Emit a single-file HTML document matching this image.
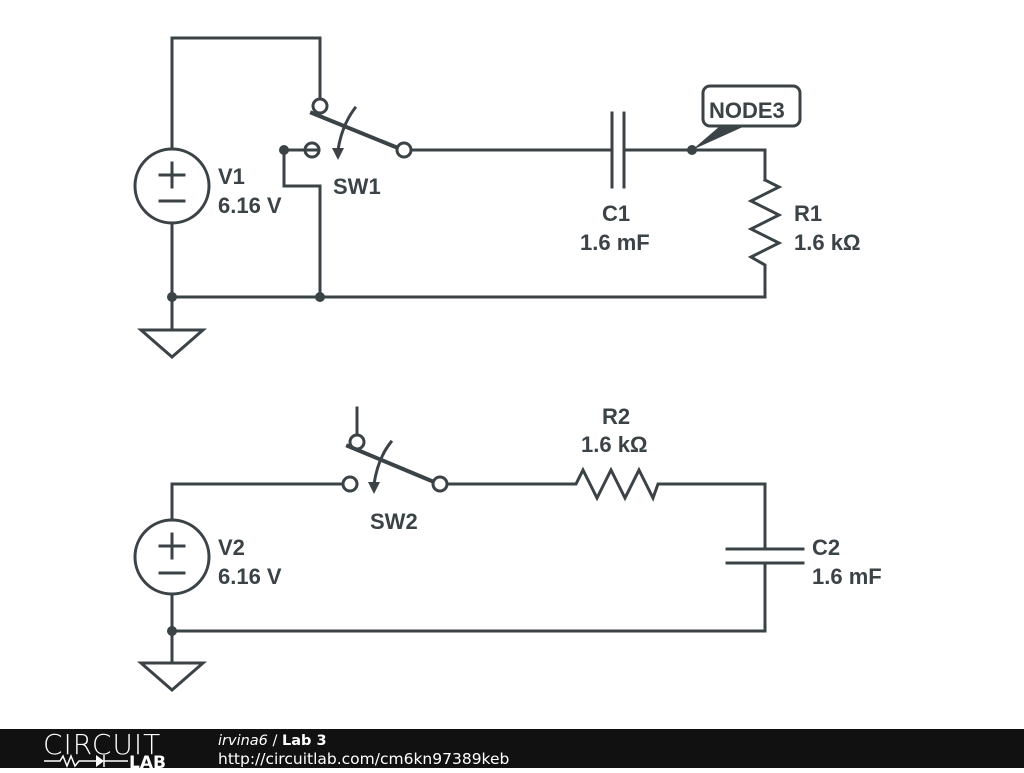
<!DOCTYPE html>
<html><head><meta charset="utf-8"><style>
body{margin:0;width:1024px;height:768px;overflow:hidden;background:#fff;font-family:"Liberation Sans",sans-serif}
</style></head><body>
<svg width="1024" height="768" viewBox="0 0 1024 768" xmlns="http://www.w3.org/2000/svg">
<g fill="none" stroke="#3b4347" stroke-width="3" stroke-linecap="square" stroke-linejoin="miter">
<polyline points="172,149 172,38 320,38 320,99"/>
<circle cx="320" cy="106" r="7" stroke-width="3" fill="#fff"/>
<line x1="312" y1="113" x2="398" y2="148" stroke-width="4"/>
<circle cx="404" cy="150" r="7" fill="#fff"/>
<circle cx="312" cy="150" r="7" fill="#fff"/>
<line x1="284" y1="150" x2="319" y2="150"/>
<polyline points="284,150 284,186 320,186 320,297"/>
<path d="M355,108 Q342,125 338,150"/>
<line x1="411" y1="150" x2="612" y2="150"/>
<line x1="612" y1="113" x2="612" y2="187" stroke-width="3"/>
<line x1="624" y1="113" x2="624" y2="187" stroke-width="3"/>
<polyline points="624,150 765,150 765,180"/>
<polyline points="765,180 779,187 751,201 779,215 751,229 779,243 751,257 765,265 765,297 172,297"/>
<line x1="172" y1="223" x2="172" y2="330"/>
<circle cx="172" cy="186" r="37"/>
<line x1="160" y1="175" x2="184" y2="175"/><line x1="172" y1="163" x2="172" y2="187"/>
<line x1="160" y1="201" x2="184" y2="201"/>
<polygon points="141,330 203,330 172,357"/>
<rect x="703" y="86" width="97" height="40" rx="7" fill="#fff"/>
<polyline points="172,520 172,484 343,484"/>
<circle cx="350" cy="484" r="7" fill="#fff"/>
<line x1="357" y1="408" x2="357" y2="435"/>
<circle cx="357" cy="442" r="7" fill="#fff"/>
<line x1="348" y1="446" x2="434" y2="482" stroke-width="4"/>
<circle cx="440" cy="484" r="7" fill="#fff"/>
<path d="M391,442 Q378,458 374,484"/>
<polyline points="447,484 576,484 583,470 597,498 611,470 625,498 639,470 653,498 658,484 765,484 765,549"/>
<line x1="727" y1="549" x2="803" y2="549"/>
<line x1="727" y1="563" x2="803" y2="563"/>
<polyline points="765,563 765,631 172,631"/>
<line x1="172" y1="594" x2="172" y2="663"/>
<circle cx="172" cy="557" r="37"/>
<line x1="160" y1="546" x2="184" y2="546"/><line x1="172" y1="534" x2="172" y2="558"/>
<line x1="160" y1="573" x2="184" y2="573"/>
<polygon points="141,663 203,663 172,690"/>
</g>
<g fill="#3b4347">
<polygon points="332,148 344,148 338,160"/>
<polygon points="368,482 380,482 374,494"/>
<circle cx="284" cy="150" r="5"/>
<circle cx="172" cy="297" r="5"/>
<circle cx="320" cy="297" r="5"/>
<circle cx="692" cy="150" r="5"/>
<circle cx="172" cy="631" r="5"/>
<polygon points="692,150 720,126 745,126"/>
</g>
<g font-family="Liberation Sans, sans-serif" font-weight="bold" font-size="22" fill="#3b4347">
<text x="709" y="118">NODE3</text>
<text x="218" y="184">V1</text><text x="218" y="213">6.16 V</text>
<text x="333" y="194">SW1</text>
<text x="602" y="221">C1</text><text x="580" y="250">1.6 mF</text>
<text x="794" y="221">R1</text><text x="794" y="250">1.6 kΩ</text>
<text x="602" y="424">R2</text><text x="581" y="452">1.6 kΩ</text>
<text x="370" y="529">SW2</text>
<text x="218" y="555">V2</text><text x="218" y="584">6.16 V</text>
<text x="812" y="555">C2</text><text x="812" y="584">1.6 mF</text>
</g>
<rect x="0" y="729" width="1024" height="39" fill="#111"/>
<text x="43" y="754" font-size="28" fill="#fff" font-family="DejaVu Sans, sans-serif" font-weight="200" letter-spacing="1">CIRCUIT</text>
<g stroke="#fff" stroke-width="1.5" fill="none">
<polyline points="44,761 60,761 63,756 67,766 71,756 75,766 79,761 96,761"/>
<line x1="104" y1="755" x2="104" y2="767"/><line x1="104" y1="761" x2="128" y2="761"/>
</g>
<polygon points="96,755 96,767 104,761" fill="#fff"/>
<text x="129" y="768" font-size="17" font-weight="bold" fill="#fff" font-family="DejaVu Sans, sans-serif">LAB</text>
<text x="218" y="745" font-size="14.5" fill="#fff" font-family="DejaVu Sans, sans-serif"><tspan font-style="italic">irvina6</tspan> / <tspan font-weight="bold">Lab 3</tspan></text>
<text x="218" y="764" font-size="15.5" fill="#fff" font-family="DejaVu Sans, sans-serif">http://circuitlab.com/cm6kn97389keb</text>
</svg>
</body></html>
